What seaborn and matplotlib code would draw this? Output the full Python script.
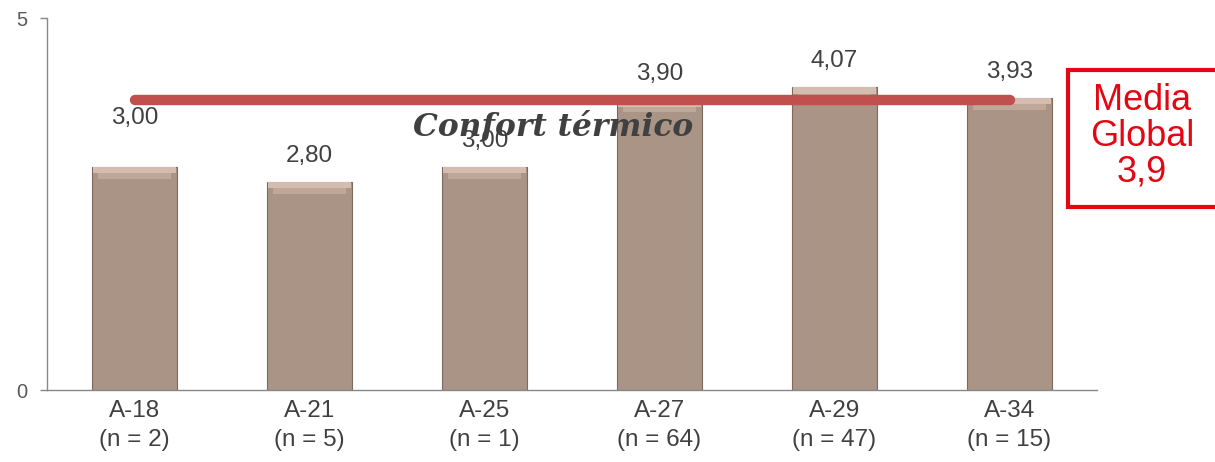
import matplotlib
matplotlib.use("Agg")
import matplotlib.pyplot as plt
import seaborn as sns
import pandas as pd
import numpy as np
from matplotlib.patches import Rectangle

categories = ["A-18", "A-21", "A-25", "A-27", "A-29", "A-34"]
sizes = [2, 5, 1, 64, 47, 15]
values = [3.00, 2.80, 3.00, 3.90, 4.07, 3.93]
global_mean = 3.9
title = "Confort térmico"

sns.set_theme(style="white")
plt.rcParams['font.family'] = ['Liberation Sans', 'DejaVu Sans']

df = pd.DataFrame({"cat": categories, "val": values})

fig = plt.figure(figsize=(12.15, 4.62), dpi=100)
ax = fig.add_axes([47/1215, 1-390/462, 1050/1215, 372/462])

sns.barplot(data=df, x="cat", y="val", ax=ax, color="#a99486", width=0.49,
            saturation=1, edgecolor="#7d6a5e", linewidth=0.8)

# bevel highlight on bars
for p in ax.patches:
    x0, w, h = p.get_x(), p.get_width(), p.get_height()
    ax.add_patch(Rectangle((x0 + 0.01, h - 0.09), w - 0.02, 0.09, facecolor="#d4bcae",
                           edgecolor="none", zorder=p.get_zorder() + 0.1))
    ax.add_patch(Rectangle((x0 + 0.035, h - 0.16), w - 0.07, 0.07, facecolor="#bfa898",
                           edgecolor="none", zorder=p.get_zorder() + 0.1))

ax.set_ylim(0, 5)
ax.set_xlim(-0.5, len(categories) - 0.5)
ax.set_yticks([0, 5])
ax.set_yticklabels(["0", "5"], fontsize=14.5, color="#595959")
ax.set_xticks(range(len(categories)))
ax.set_xticklabels([f"{c}\n(n = {n})" for c, n in zip(categories, sizes)],
                   fontsize=17.5, color="#404040", linespacing=1.45)
ax.set_xticks(np.arange(-0.5, len(categories), 1.0), minor=True)
ax.tick_params(axis="x", which="major", length=0, pad=7)
ax.tick_params(axis="x", which="minor", length=5, color="#888888", width=1, direction="out")
ax.tick_params(axis="y", length=5, color="#888888", width=1, direction="out", pad=9, left=True)
ax.set_xlabel("")
ax.set_ylabel("")
for s in ["top", "right"]:
    ax.spines[s].set_visible(False)
for s in ["left", "bottom"]:
    ax.spines[s].set_color("#888888")
    ax.spines[s].set_linewidth(1)

# value labels
for i, v in enumerate(values):
    off = 0.66 if i == 0 else 0.35
    ax.text(i, v + off, f"{v:.2f}".replace(".", ","), ha="center", va="center",
            fontsize=17.5, color="#404040", zorder=5)

# global mean line
ax.plot([0, len(categories) - 1], [global_mean, global_mean], color="#c0504d",
        linewidth=7.5, solid_capstyle="round", zorder=4)

ax.text(2.39, 3.55, title, ha="center", va="center", fontsize=22.5, fontweight="bold",
        fontstyle="italic", family=["DejaVu Serif"], color="#404040", zorder=6)

# Media Global box
fig.patches.append(Rectangle((1068/1215, 1-207/462), 160/1215, 137/462,
                             transform=fig.transFigure, facecolor="white",
                             edgecolor="#e30613", linewidth=3, clip_on=False))
fig.text(1142/1215, 1-136/462, f"Media\nGlobal\n{str(global_mean).replace('.', ',')}",
         ha="center", va="center", fontsize=26, color="#e30613", linespacing=1.02)

fig.savefig("out.png", dpi=100)
